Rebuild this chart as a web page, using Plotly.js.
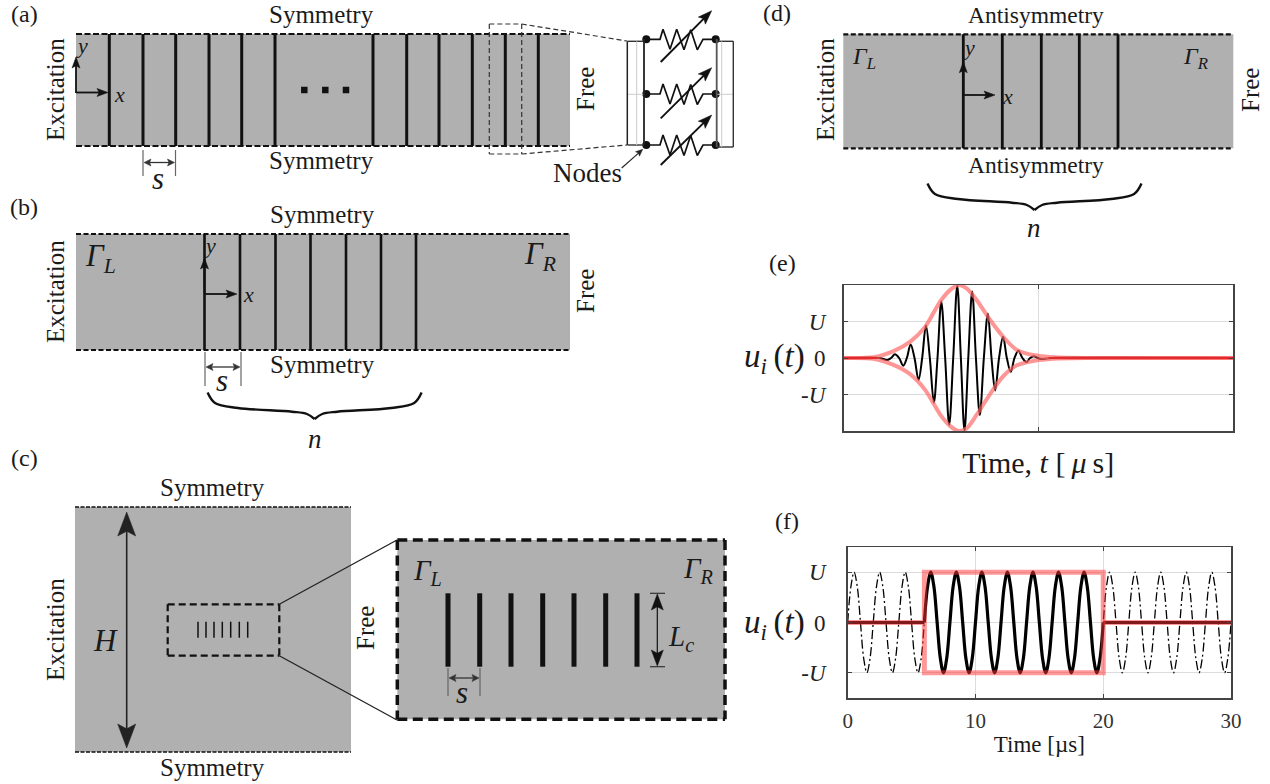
<!DOCTYPE html>
<html><head><meta charset="utf-8">
<script src="https://cdn.plot.ly/plotly-3.0.1.min.js"></script>
<style>html,body{margin:0;padding:0;background:#fff}#p{width:1270px;height:784px}</style>
</head><body><div id="p"></div>
<script>
/* ---------- schematic geometry (page pixels) ---------- */
const GRAY='#b0b0b0', INK='#111';
const barsA=[109.3,143,175.7,209,241.7,275,373,406.7,439,472.3,505.3,538.3];
const dotsAx=[304.3,325.3,346], dotsAy=[90,90,90];
const barsB=[204.5,240,275.5,310.5,346,381,416];
const barsD=[963.3,1002.3,1041.3,1079.3,1118];
const barsCsmall=[198,206,214,222.3,230.7,239.3,247.7];
const barsCzoom=[448,479.7,511,542.7,574,605.7,637];
const nodeXL=646.3, nodeXR=715.7, nodeRows=[39.3,94,145];
const zigX=[646.3,660,663,670,676.7,684,690.7,697.3,703,715.7];
const zigDy=[0,0,-10,10,-10,10.5,-9.5,10.5,0,0];
const zigArrowY=[[62,10.7],[118.3,67.7],[165,115]];
const braceDx=[-107,-99.6,-76.6,-22.6,-7.6,0];
const braceDy=[-26.5,-16,-11,-7.3,-5,0];

const burstT=[0,2.8,3.37,3.66,3.96,4.28,4.60,4.88,5.17,5.47,5.78,6.06,6.35,6.65,6.96,7.24,7.53,7.83,8.14,8.45,8.76,9.04,9.32,9.61,9.91,10.2,10.5,10.81,11.12,11.4,11.68,11.98,12.29,12.58,12.88,13.17,13.47,13.78,14.09,14.37,14.65,14.96,15.27,16,30];
const burstU=[0,0,-0.055,0,0.10,0,-0.21,0,0.37,0,-0.60,0,0.89,0,-1.22,0,1.55,0,-1.83,0,1.98,0,-1.98,0,1.82,0,-1.56,0,1.22,0,-0.89,0,0.58,0,-0.38,0,0.20,0,-0.11,0,0.05,0,-0.03,0,0];
const envT=[0,2.3,3.85,5.15,6.3,7.45,8.2,8.85,9.5,10.25,11.3,12.3,13.35,14.6,16.2,19,30];
const envUp=[0,0.02,0.19,0.45,0.86,1.55,1.86,2.0,1.9,1.59,1.04,0.58,0.22,0.08,0.02,0,0];
const envLo=[0,-0.02,-0.19,-0.45,-0.88,-1.55,-1.86,-2.0,-1.92,-1.56,-0.98,-0.5,-0.2,-0.08,-0.02,0,0];
const zeroRedT=[0,2.6,null,15.8,30], zeroRedU=[0,0,null,0,0];
const eTicksX=[0,15,30], eTicksY=[-1,0,1];

/* ---------- panel (f) ---------- */
const carrierT=[0,.25,.5,.75,1,1.25,1.5,1.75,2,2.25,2.5,2.75,3,3.25,3.5,3.75,4,4.25,4.5,4.75,5,5.25,5.5,5.75,6,6.25,6.5,6.75,7,7.25,7.5,7.75,8,8.25,8.5,8.75,9,9.25,9.5,9.75,10,10.25,10.5,10.75,11,11.25,11.5,11.75,12,12.25,12.5,12.75,13,13.25,13.5,13.75,14,14.25,14.5,14.75,15,15.25,15.5,15.75,16,16.25,16.5,16.75,17,17.25,17.5,17.75,18,18.25,18.5,18.75,19,19.25,19.5,19.75,20,20.25,20.5,20.75,21,21.25,21.5,21.75,22,22.25,22.5,22.75,23,23.25,23.5,23.75,24,24.25,24.5,24.75,25,25.25,25.5,25.75,26,26.25,26.5,26.75,27,27.25,27.5,27.75,28,28.25,28.5,28.75,29,29.25,29.5,29.75,30];
const carrierU=[0,.71,1,.71,0,-.71,-1,-.71,0,.71,1,.71,0,-.71,-1,-.71,0,.71,1,.71,0,-.71,-1,-.71,0,.71,1,.71,0,-.71,-1,-.71,0,.71,1,.71,0,-.71,-1,-.71,0,.71,1,.71,0,-.71,-1,-.71,0,.71,1,.71,0,-.71,-1,-.71,0,.71,1,.71,0,-.71,-1,-.71,0,.71,1,.71,0,-.71,-1,-.71,0,.71,1,.71,0,-.71,-1,-.71,0,.71,1,.71,0,-.71,-1,-.71,0,.71,1,.71,0,-.71,-1,-.71,0,.71,1,.71,0,-.71,-1,-.71,0,.71,1,.71,0,-.71,-1,-.71,0,.71,1,.71,0,-.71,-1,-.71,0];
const windowT=[0,6,6,20,20,6,6,null,20,30], windowU=[0,0,1,1,-1,-1,0,null,0,0];
const restT=[0,6,null,20,30], restU=[0,0,null,0,0];
const fTicksX=[0,10,20,30], fTicksY=[-1,0,1];

/* ---------- builders ---------- */
const shapes=[], annotations=[], traces=[];
const rect=(x0,y0,x1,y1,fill)=>shapes.push({type:'rect',xref:'x',yref:'y',x0,y0,x1,y1,fillcolor:fill,line:{width:0},layer:'below'});
const seg=(x0,y0,x1,y1,color,width,dash)=>shapes.push({type:'line',xref:'x',yref:'y',x0,y0,x1,y1,line:{color,width,dash:dash||'solid'}});
function head(x,y,dx,dy,len,wid,color){
  const L=Math.hypot(dx,dy),ux=dx/L,uy=dy/L,px=-uy,py=ux;
  const bx=x-ux*len,by=y-uy*len,nx=x-ux*len*0.8,ny=y-uy*len*0.8;
  shapes.push({type:'path',xref:'x',yref:'y',path:`M${x},${y} L${bx+px*wid/2},${by+py*wid/2} L${nx},${ny} L${bx-px*wid/2},${by-py*wid/2} Z`,fillcolor:color,line:{color,width:0.5}});
}
function arrow(x0,y0,x1,y1,color,w,len,wid){
  const L=Math.hypot(x1-x0,y1-y0),k=(L-len*0.75)/L;
  seg(x0,y0,x0+(x1-x0)*k,y0+(y1-y0)*k,color,w);
  head(x1,y1,x1-x0,y1-y0,len,wid,color);
}
function dbl(x0,y0,x1,y1,color,w,len,wid){
  const L=Math.hypot(x1-x0,y1-y0),ux=(x1-x0)/L,uy=(y1-y0)/L;
  seg(x0+ux*len*.75,y0+uy*len*.75,x1-ux*len*.75,y1-uy*len*.75,color,w);
  head(x1,y1,ux,uy,len,wid,color); head(x0,y0,-ux,-uy,len,wid,color);
}
function sDim(x0,x1,y0,y1,ya,tx,ty){
  seg(x0,y0,x0,y1,'#666',1.2); seg(x1,y0,x1,y1,'#666',1.2);
  dbl(x0+1,ya,x1-1,ya,'#333',1.3,7,7);
  txt(tx,ty,'<i>s</i>',31);
}
const txt=(x,y,text,size,o={})=>annotations.push({xref:'x',yref:'y',x,y,text,showarrow:false,
  textangle:o.angle||0,xanchor:o.anchor||'center',yanchor:'middle',
  font:{family:'Liberation Serif',size,color:o.color||'#1a1a1a'}});
const rot=(x,y,text,size)=>txt(x,y,text,size,{angle:-90});
function band(x0,x1,y0,y1,bars,w,dash,dw){
  rect(x0,y0,x1,y1,GRAY);
  bars.forEach(b=>seg(b,y0,b,y1,INK,w));
  seg(x0,y0,x1,y0,INK,dw,dash); seg(x0,y1,x1,y1,INK,dw,dash);
}
function brace(tipX,tipY){
  const mk=s=>({x:braceDx.map(d=>tipX+s*d),y:braceDy.map(d=>tipY+d),mode:'lines',xaxis:'x',yaxis:'y',
    line:{color:INK,width:2.4,shape:'spline',smoothing:1},hoverinfo:'skip',showlegend:false});
  traces.push(mk(1),mk(-1));
}

/* ---------- (a) ---------- */
band(76,570,34,146,barsA,3,'6px,2.5px',2.2);
traces.push({x:dotsAx,y:dotsAy,mode:'markers',xaxis:'x',yaxis:'y',marker:{symbol:'square',size:6.5,color:INK},showlegend:false,hoverinfo:'skip'});
arrow(76,92.5,108,92.5,INK,1.8,11,8); arrow(76,93,76,57,INK,1.8,11,8);
txt(119,94,'<i>x</i>',22); txt(82,45,'<i>y</i>',22);
sDim(143,175.5,150,176,162.5,158,178);
txt(24,14,'(a)',24); txt(321,14,'Symmetry',25); txt(321,160,'Symmetry',25);
rot(55,90,'Excitation',25); rot(585,89,'Free',25);
/* zoom window and element */
[[489.3,24,521.7,24],[489.3,154,521.7,154],[489.3,24,489.3,154],[521.7,24,521.7,154]].forEach(s=>seg(...s,'#333',1.2,'5px,3px'));
seg(521.7,24,627,41,'#333',1.2,'5px,3px'); seg(521.7,154,627,145,'#333',1.2,'5px,3px');
[[627.3,41.3,644,145],[716.7,41.3,733.3,147]].forEach(r=>{
  seg(r[0],r[1],r[2],r[1],'#333',1.4); seg(r[0],r[3],r[2],r[3],'#333',1.4);
  seg(r[0],94.3,r[2],94.3,'#ccc',1);
});
seg(627.3,41.3,627.3,145,'#222',1.5); seg(644,39,644,145,'#222',1.8);
seg(636.7,41.3,636.7,145,'#ccc',1);
seg(716.7,39,716.7,147,'#555',1.8); seg(733.3,41.3,733.3,147,'#333',1.4);
seg(721.7,41.3,721.7,147,'#ccc',1);
nodeRows.forEach((r,i)=>{
  traces.push({x:zigX,y:zigDy.map(d=>r+d),mode:'lines',xaxis:'x',yaxis:'y',line:{color:INK,width:1.7},showlegend:false,hoverinfo:'skip'});
  arrow(660.7,zigArrowY[i][0],711.7,zigArrowY[i][1],INK,1.9,14,10);
});
traces.push({x:[nodeXL,nodeXL,nodeXL,nodeXR,nodeXR,nodeXR],y:[...nodeRows,...nodeRows],mode:'markers',xaxis:'x',yaxis:'y',marker:{size:8,color:INK},showlegend:false,hoverinfo:'skip'});
txt(587,173,'Nodes',27); arrow(621.7,168,642.7,149.3,'#222',1.1,7,6);

/* ---------- (b) ---------- */
band(76,570,234,350,barsB,2.6,'5px,2.5px',2.2);
arrow(204.5,293,204.5,258,INK,1.8,11,8); arrow(204.5,294,237,294,INK,1.8,11,8);
txt(248,294,'<i>x</i>',22); txt(210,245,'<i>y</i>',22);
txt(100,258,'<i>Γ<sub>L</sub></i>',31); txt(540,256,'<i>Γ<sub>R</sub></i>',31);
sDim(205,241,352,386,367,222,380);
txt(24,207,'(b)',24); txt(322,214,'Symmetry',25); txt(322,364,'Symmetry',25);
rot(55,292,'Excitation',25); rot(585,291,'Free',25);
brace(314.6,419); txt(315,439,'<i>n</i>',27);

/* ---------- (c) ---------- */
rect(75,507,351,752,GRAY);
seg(75,507,351,507,INK,1.5,'4px,1.5px'); seg(75,752,351,752,INK,1.5,'4px,1.5px');
dbl(126.7,512,126.7,748,'#222',1.6,24,18);
txt(105,640,'<i>H</i>',31);
[[167.7,604.3,279.3,604.3],[167.7,655.7,279.3,655.7],[167.7,604.3,167.7,655.7],[279.3,604.3,279.3,655.7]].forEach(s=>seg(...s,INK,2.2,'7px,4px'));
barsCsmall.forEach(b=>seg(b,621.7,b,637.7,INK,1.5));
seg(279.3,604.3,397,540,'#222',1.3); seg(279.3,655.7,397,720,'#222',1.3);
txt(24,458,'(c)',24); txt(212,487,'Symmetry',25); txt(212,767,'Symmetry',25);
rot(55,630,'Excitation',25); rot(365,628,'Free',25);
rect(397.3,540,725,719.3,GRAY);
[[397.3,540,725,540],[397.3,719.3,725,719.3],[397.3,540,397.3,719.3],[725,540,725,719.3]].forEach(s=>seg(...s,INK,3.5,'10px,5.5px'));
barsCzoom.forEach(b=>seg(b,593.3,b,666.7,INK,5));
txt(427,572,'<i>Γ<sub>L</sub></i>',29); txt(698,570,'<i>Γ<sub>R</sub></i>',29);
seg(650,593.3,665,593.3,'#333',1.2); seg(650,666.7,665,666.7,'#333',1.2);
dbl(657.3,594,657.3,666,INK,1.2,16,12);
txt(681,638,'<i>L<sub>c</sub></i>',29);
sDim(448,480,668,696,678,462,692);

/* ---------- (d) ---------- */
band(843.3,1233.3,34.3,148.3,barsD,2.8,'5px,2.5px',2.2);
arrow(963.3,95,963.3,61.7,INK,1.8,11,8); arrow(963.3,95,995,95,INK,1.8,11,8);
txt(1007,96,'<i>x</i>',22); txt(969,47,'<i>y</i>',22);
txt(864,58,'<i>Γ<sub>L</sub></i>',24); txt(1195,58,'<i>Γ<sub>R</sub></i>',24);
txt(777,13,'(d)',24); txt(1036,15,'Antisymmetry',23.5); txt(1036,165,'Antisymmetry',23.5);
rot(825,90,'Excitation',25); rot(1250,90,'Free',25);
brace(1034.5,210); txt(1034,228,'<i>n</i>',27);

/* ---------- (e) traces ---------- */
const PINK='rgba(255,100,100,0.68)';
traces.push(
 {x:burstT,y:burstU,mode:'lines',xaxis:'x2',yaxis:'y2',line:{color:'#000',width:2,shape:'spline',smoothing:1},name:'u',hoverinfo:'skip',showlegend:false},
 {x:envT,y:envUp,mode:'lines',xaxis:'x2',yaxis:'y2',line:{color:PINK,width:4,shape:'spline',smoothing:0.8},cliponaxis:false,hoverinfo:'skip',showlegend:false},
 {x:envT,y:envLo,mode:'lines',xaxis:'x2',yaxis:'y2',line:{color:PINK,width:4,shape:'spline',smoothing:0.8},cliponaxis:false,hoverinfo:'skip',showlegend:false},
 {x:zeroRedT,y:zeroRedU,mode:'lines',xaxis:'x2',yaxis:'y2',line:{color:'#dd1c1c',width:1.6},hoverinfo:'skip',showlegend:false}
);
txt(782,263,'(e)',24);
txt(807,358,'<i>u<sub>i</sub></i>\u2009(<i>t</i>)',33,{anchor:'right'});

/* ---------- (f) traces ---------- */
const inWin=carrierT.map(t=>t>=6&&t<=20);
traces.push(
 {x:carrierT,y:carrierU,mode:'lines',xaxis:'x3',yaxis:'y3',line:{color:'#000',width:1.3,dash:'9px,3px,2px,3px',shape:'spline',smoothing:1},hoverinfo:'skip',showlegend:false},
 {x:carrierT.filter((t,i)=>inWin[i]),y:carrierU.filter((t,i)=>inWin[i]),mode:'lines',xaxis:'x3',yaxis:'y3',line:{color:'#000',width:3.2,shape:'spline',smoothing:1},hoverinfo:'skip',showlegend:false},
 {x:restT,y:restU,mode:'lines',xaxis:'x3',yaxis:'y3',line:{color:'#000',width:3},hoverinfo:'skip',showlegend:false},
 {x:windowT,y:windowU,mode:'lines',xaxis:'x3',yaxis:'y3',line:{color:'rgba(255,50,50,0.5)',width:5},hoverinfo:'skip',showlegend:false}
);
txt(787,521,'(f)',24);
txt(807,624,'<i>u<sub>i</sub></i>\u2009(<i>t</i>)',33,{anchor:'right'});

const W=1270,H=784;
const dom=(a,b,n)=>[a/n,b/n], domY=(top,bot)=>[1-bot/H,1-top/H];
const panelAxis={showline:true,mirror:'ticks',linecolor:'#444',linewidth:1.5,ticks:'inside',ticklen:4,tickcolor:'#444',
  showgrid:true,gridcolor:'#dcdcdc',gridwidth:1,zeroline:false,fixedrange:true,
  tickfont:{family:'Liberation Serif',size:23,color:'#222'}};
const layout={
 width:W,height:H,margin:{l:0,r:0,t:0,b:0,pad:0},paper_bgcolor:'#fff',plot_bgcolor:'rgba(0,0,0,0)',showlegend:false,
 xaxis:{domain:[0,1],range:[0,W],visible:false,fixedrange:true},
 yaxis:{domain:[0,1],range:[H,0],visible:false,fixedrange:true},
 xaxis2:{...panelAxis,domain:dom(843.5,1233,W),range:[0,30],anchor:'y2',tickmode:'array',tickvals:eTicksX,showticklabels:false,
   title:{text:'Time, <i>t</i> [\u2009<i>μ</i>\u2009s]',standoff:20,font:{family:'Liberation Serif',size:30,color:'#1a1a1a'}}},
 yaxis2:{...panelAxis,domain:domY(285,431),range:[-2,2],anchor:'x2',tickmode:'array',tickvals:eTicksY,ticktext:['-<i>U</i>','0','<i>U</i>'],ticklabelstandoff:12},
 xaxis3:{...panelAxis,domain:dom(847.7,1231,W),range:[0,30],anchor:'y3',tickmode:'array',tickvals:fTicksX,ticktext:fTicksX.map(String),ticklabelstandoff:3,
   tickfont:{family:'Liberation Serif',size:21,color:'#333'},
   title:{text:'Time [µs]',standoff:4,font:{family:'Liberation Serif',size:23,color:'#1a1a1a'}}},
 yaxis3:{...panelAxis,domain:domY(547,698),range:[-1.5,1.5],anchor:'x3',tickmode:'array',tickvals:fTicksY,ticktext:['-<i>U</i>','0','<i>U</i>'],ticklabelstandoff:16},
 shapes,annotations
};
Plotly.newPlot('p',traces,layout,{displayModeBar:false,staticPlot:true});
</script></body></html>
